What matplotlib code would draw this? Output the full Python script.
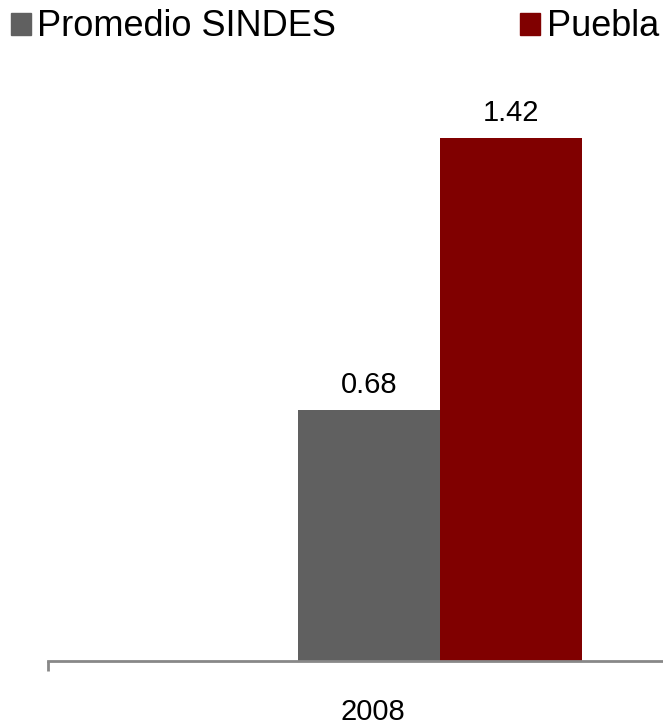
import matplotlib.pyplot as plt
from matplotlib.patches import Patch

# Data
categories = ['2008']
series_names = ['Promedio SINDES', 'Puebla']
sindes = [0.68]
puebla = [1.42]
colors = ['#606060', '#800000']

W, H = 663, 726
fig = plt.figure(figsize=(W / 100, H / 100), dpi=100)
plt.rcParams['font.family'] = ['Liberation Sans', 'DejaVu Sans']

# axes from x=48 to 663 px, baseline at y=661
left, right = 48, 663
bottom, top = 661, 60
ax = fig.add_axes([left / W, (H - bottom) / H, (right - left) / W, (bottom - top) / H])

width = 0.35
px_per_unit = 142 / width
ax.set_xlim(-(440 - left) / px_per_unit, (right - 440) / px_per_unit)
ax.set_ylim(0, (bottom - top) / 368.5)

x = range(len(categories))
b1 = ax.bar([i - width / 2 for i in x], sindes, width, color=colors[0])
b2 = ax.bar([i + width / 2 for i in x], puebla, width, color=colors[1])

for bars, vals in ((b1, sindes), (b2, puebla)):
    for rect, v in zip(bars, vals):
        ax.annotate(f'{v:.2f}', (rect.get_x() + rect.get_width() / 2, v),
                    xytext=(0, 8), textcoords='offset points',
                    ha='center', va='bottom', fontsize=21, color='black')

for s in ['top', 'right', 'left']:
    ax.spines[s].set_visible(False)
ax.spines['bottom'].set_color('#888888')
ax.spines['bottom'].set_linewidth(2)
ax.set_yticks([])
ax.set_xticks([ax.get_xlim()[0]])
ax.set_xticklabels([''])
ax.tick_params(axis='x', length=7, width=2, color='#888888', direction='out')

# category label
fig.text(372.5 / W, 1 - 712 / H, categories[0], ha='center', va='center', fontsize=21)

handles = [Patch(color=c) for c in colors]
fig.legend(handles, series_names, loc='center left', bbox_to_anchor=(11 / W, 1 - 27 / H),
           ncol=2, frameon=False, fontsize=26, handlelength=0.55, handleheight=0.55,
           handletextpad=0.18, columnspacing=5.1, borderaxespad=0, borderpad=0)

fig.savefig('out.png', dpi=100)
